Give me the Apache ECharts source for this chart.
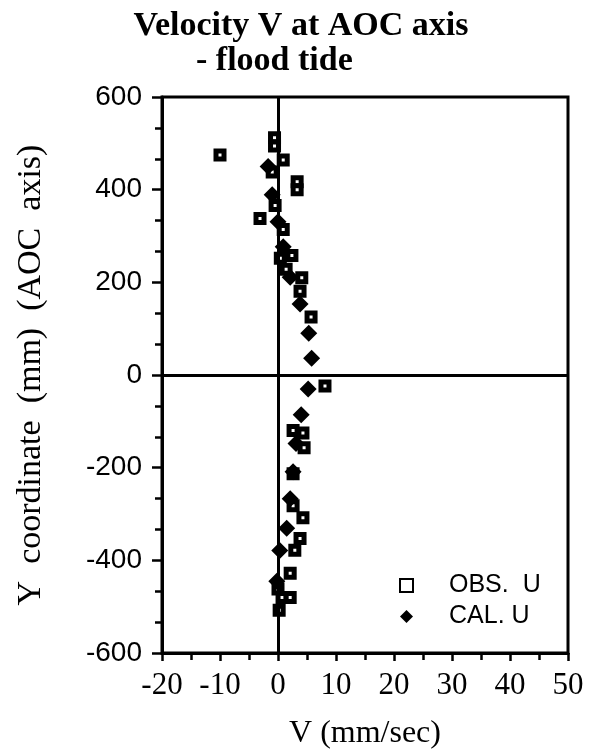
<!DOCTYPE html>
<html>
<head>
<meta charset="utf-8">
<script src="https://cdn.jsdelivr.net/npm/echarts@6/dist/echarts.min.js"></script>
<style>
  html, body { margin: 0; padding: 0; background: #fff; }
  #chart { width: 596px; height: 755px; }
</style>
</head>
<body>
<div id="chart"></div>
<script>
// Observed and calculated V velocity along the AOC axis (flood tide)
// each point: [V (mm/sec), Y coordinate (mm)]
const obsU = [
    [-10.0, 475], [-0.6, 512], [-0.6, 494], [0.9, 464], [-1.0, 438],
    [3.3, 417], [3.3, 400], [-0.5, 366], [-3.1, 338], [0.9, 314],
    [2.4, 258], [0.4, 252], [1.4, 228], [4.1, 210], [3.8, 181],
    [5.7, 125], [8.1, -24], [2.6, -120], [4.3, -125], [4.5, -157],
    [2.6, -213], [2.6, -282], [4.3, -308], [3.8, -353], [2.9, -378],
    [2.1, -428], [0.0, -462], [0.7, -480], [2.1, -480], [0.2, -508]
];
const calU = [
    [-1.7, 450], [-1.0, 389], [0.0, 331], [0.9, 277], [2.1, 211],
    [3.8, 153], [5.3, 90], [5.8, 36], [5.2, -30], [4.0, -86],
    [3.1, -148], [2.6, -209], [2.1, -267], [1.5, -331], [0.3, -379],
    [-0.2, -445]
];
const xTicks = [-20, 50, 10];   // min, max, interval
const yTicks = [-600, 600, 200];
const seriesNames = ['OBS.  U', 'CAL. U'];

const serif = '"Liberation Serif", "DejaVu Serif", serif';
const sans = '"Liberation Sans", Arial, sans-serif';

const chart = echarts.init(document.getElementById('chart'));

chart.setOption({
    animation: false,
    backgroundColor: '#fff',
    graphic: [
        {
            type: 'text', x: 301, y: 26,
            style: {
                text: 'Velocity V at AOC axis',
                font: 'bold 34px ' + serif,
                fill: '#000', align: 'center', verticalAlign: 'middle'
            }
        },
        {
            type: 'text', x: 196, y: 61,
            style: {
                text: '- flood tide',
                font: 'bold 34px ' + serif,
                fill: '#000', align: 'left', verticalAlign: 'middle'
            }
        }
    ],
    grid: {
        left: 162, right: 28, top: 97, bottom: 100,
        show: true, borderColor: '#000', borderWidth: 3
    },
    legend: {
        orient: 'vertical',
        left: 394, top: 568,
        itemWidth: 13, itemHeight: 13, itemGap: 6,
        textStyle: { fontFamily: sans, fontSize: 25, color: '#000', padding: [0, 0, 0, 31] },
        data: seriesNames
    },
    xAxis: {
        type: 'value',
        min: xTicks[0], max: xTicks[1], interval: xTicks[2],
        name: 'V (mm/sec)', nameLocation: 'middle', nameGap: 65,
        nameTextStyle: { fontFamily: serif, fontSize: 32, color: '#000' },
        axisLine: { onZero: false, lineStyle: { color: '#000', width: 3 } },
        axisTick: { inside: false, length: 8, lineStyle: { color: '#000', width: 2.5 } },
        minorTick: { show: true, splitNumber: 2, length: 7, lineStyle: { color: '#000', width: 2.5 } },
        axisLabel: { fontFamily: serif, fontSize: 31, color: '#000', margin: 17 },
        splitLine: { show: false }
    },
    yAxis: {
        type: 'value',
        min: yTicks[0], max: yTicks[1], interval: yTicks[2],
        name: 'Y  coordinate  (mm)  (AOC  axis)', nameLocation: 'middle', nameGap: 114,
        nameTextStyle: { fontFamily: serif, fontSize: 34, color: '#000' },
        axisLine: { onZero: false, lineStyle: { color: '#000', width: 3 } },
        axisTick: { inside: false, length: 10, lineStyle: { color: '#000', width: 2.5 } },
        minorTick: { show: true, splitNumber: 3, length: 7, lineStyle: { color: '#000', width: 2.5 } },
        axisLabel: { fontFamily: sans, fontSize: 28, color: '#000', margin: 20 },
        splitLine: { show: false }
    },
    series: [
        {
            name: seriesNames[0],
            type: 'scatter',
            symbol: 'rect',
            symbolSize: 8,
            itemStyle: { color: '#fff', borderColor: '#000', borderWidth: 5, opacity: 1 },
            data: obsU,
            markLine: {
                silent: true,
                symbol: 'none',
                label: { show: false },
                lineStyle: { color: '#000', width: 3, type: 'solid' },
                data: [{ xAxis: 0 }, { yAxis: 0 }]
            }
        },
        {
            name: seriesNames[1],
            type: 'scatter',
            symbol: 'diamond',
            symbolSize: 17,
            itemStyle: { color: '#000', opacity: 1 },
            data: calU
        }
    ]
});
</script>
</body>
</html>
